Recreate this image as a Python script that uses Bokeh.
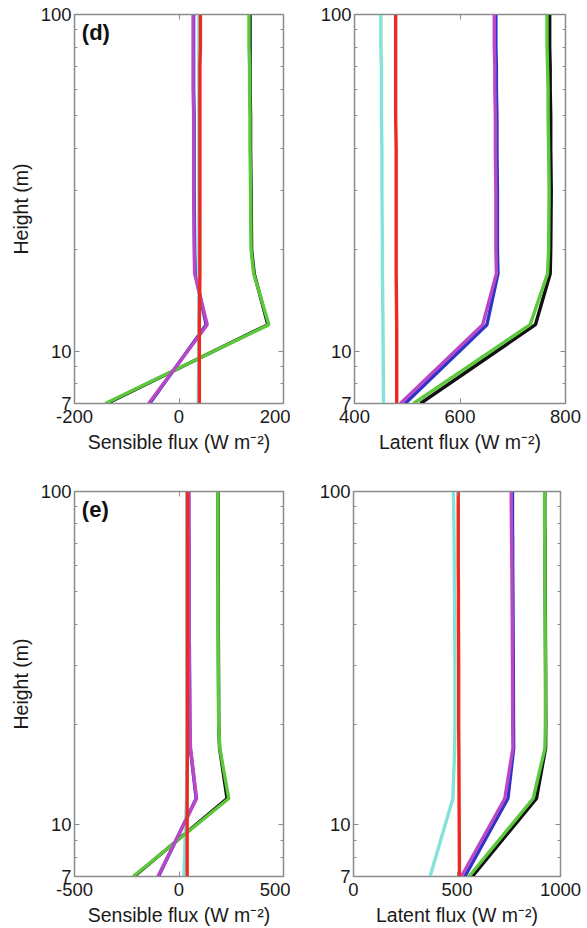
from bokeh.plotting import figure
from bokeh.layouts import column, row
from bokeh.models import (FixedTicker, LogAxis, LinearAxis,
                          Label, CustomJSTickFormatter)
from bokeh.embed import file_html
from bokeh.resources import INLINE

# ---------------- data ----------------
heights = [7, 12, 17, 20, 30, 40, 50, 60, 70, 80, 90, 100]

# panel (d) sensible flux
d_sens = {
    "black":   [-138, 170, 144, 139, 138, 137, 137, 136, 136, 136, 136, 136],
    "blue":    [-56, 52, 31, 30, 29, 29, 29, 28, 28, 28, 28, 28],
    "cyan":    [37, 38, 38, 38, 38, 38, 38, 38, 38, 38, 38, 38],
    "green":   [-141, 172, 143, 138, 137, 136, 136, 135, 135, 134, 134, 134],
    "magenta": [-58, 54, 30, 29, 28, 28, 28, 27, 27, 27, 27, 27],
    "red":     [39, 39, 40, 40, 40, 40, 40, 40, 40, 41, 41, 41],
}
# panel (d) latent flux
d_lat = {
    "black":   [525, 743, 771, 772, 773, 772, 772, 771, 771, 770, 770, 770],
    "blue":    [496, 651, 672, 671, 671, 670, 670, 669, 669, 668, 668, 668],
    "cyan":    [455, 454, 453, 453, 452, 452, 451, 451, 451, 450, 450, 450],
    "green":   [512, 733, 766, 768, 769, 768, 767, 767, 766, 765, 765, 765],
    "magenta": [487, 643, 669, 668, 668, 667, 667, 666, 666, 665, 665, 665],
    "red":     [480, 480, 479, 479, 479, 479, 478, 478, 478, 478, 478, 478],
}
# panel (e) sensible flux
e_sens = {
    "black":   [-215, 230, 194, 190, 189, 188, 188, 187, 187, 187, 187, 187],
    "blue":    [-98, 82, 54, 52, 50, 49, 48, 48, 48, 47, 47, 47],
    "cyan":    [23, 36, 38, 38, 38, 38, 38, 38, 38, 38, 38, 38],
    "green":   [-219, 238, 195, 190, 188, 187, 187, 186, 186, 186, 186, 186],
    "magenta": [-101, 84, 55, 52, 50, 49, 48, 48, 47, 47, 47, 47],
    "red":     [39, 39, 40, 40, 40, 40, 40, 40, 40, 40, 40, 40],
}
# panel (e) latent flux
e_lat = {
    "black":   [574, 884, 928, 929, 928, 927, 926, 925, 925, 924, 924, 924],
    "blue":    [538, 746, 774, 773, 772, 771, 770, 769, 769, 768, 768, 768],
    "cyan":    [370, 480, 489, 490, 490, 489, 488, 487, 486, 485, 484, 482],
    "green":   [558, 868, 925, 927, 927, 926, 925, 924, 924, 923, 923, 923],
    "magenta": [521, 731, 770, 769, 768, 767, 766, 765, 764, 763, 762, 762],
    "red":     [512, 510, 509, 508, 508, 507, 507, 506, 506, 506, 506, 506],
}

y_ticks = [7, 10, 100]
y_minor = [8, 9, 20, 30, 40, 50, 60, 70, 80, 90]
d_sens_ticks = [-200, 0, 200]
d_lat_ticks = [400, 600, 800]
e_sens_ticks = [-500, 0, 500]
e_lat_ticks = [0, 500, 1000]

sens_label = "Sensible flux (W m\u207b\u00b2)"
lat_label = "Latent flux (W m\u207b\u00b2)"
height_label = "Height (m)"

colors = {
    "black": "#111111",
    "blue": "#2f34c8",
    "cyan": "#84e2da",
    "green": "#5cc83c",
    "magenta": "#b848c6",
    "red": "#ec2a22",
}
draw_order = ["black", "blue", "cyan", "green", "magenta", "red"]

FONT = "Liberation Sans"
GREY = "#8c8c8c"
TXT = "#1a1a1a"


def make_panel(series, xticks, xlabel, ylabel, tag, width, height,
               bl, br, bt, bb):
    p = figure(width=width, height=height, y_axis_type="log",
               x_range=(xticks[0], xticks[-1]), y_range=(7, 100),
               output_backend="svg", toolbar_location=None,
               min_border_left=bl, min_border_right=br,
               min_border_top=bt, min_border_bottom=bb)
    p.grid.visible = False
    p.outline_line_color = GREY
    p.outline_line_width = 1.5
    p.background_fill_color = "white"
    p.border_fill_color = "white"

    for name in draw_order:
        p.line(series[name], heights, line_color=colors[name], line_width=3.4)

    plain = CustomJSTickFormatter(code="return String(tick)")
    xa = p.xaxis[0]
    xa.ticker = FixedTicker(ticks=xticks, minor_ticks=[])
    xa.formatter = plain
    xa.axis_label = xlabel
    ya = p.yaxis[0]
    ya.ticker = FixedTicker(ticks=y_ticks, minor_ticks=y_minor)
    ya.formatter = plain
    ya.axis_label = ylabel

    for ax in (xa, ya):
        ax.axis_line_color = GREY
        ax.major_tick_line_color = GREY
        ax.minor_tick_line_color = GREY
        ax.major_tick_in = 5
        ax.major_tick_out = 0
        ax.minor_tick_in = 3
        ax.minor_tick_out = 0
        ax.major_label_text_font = FONT
        ax.major_label_text_font_size = "18.5px"
        ax.major_label_text_color = TXT
        ax.axis_label_text_font = FONT
        ax.axis_label_text_font_size = "19.5px"
        ax.axis_label_text_font_style = "normal"
        ax.axis_label_text_color = TXT
    xa.major_label_standoff = 6
    xa.axis_label_standoff = 5
    ya.major_label_standoff = 3
    ya.axis_label_standoff = 6

    blank = CustomJSTickFormatter(code="return ''")
    ra = LogAxis(ticker=FixedTicker(ticks=y_ticks, minor_ticks=y_minor),
                 formatter=blank)
    ta = LinearAxis(ticker=FixedTicker(ticks=xticks, minor_ticks=[]),
                    formatter=blank)
    for ax in (ra, ta):
        ax.axis_line_color = GREY
        ax.major_tick_line_color = GREY
        ax.minor_tick_line_color = GREY
        ax.major_tick_in = 5
        ax.major_tick_out = 0
        ax.minor_tick_in = 3
        ax.minor_tick_out = 0
        ax.major_label_standoff = 0
        ax.major_label_text_font_size = "0px"
    p.add_layout(ra, "right")
    p.add_layout(ta, "above")

    if tag:
        span = xticks[-1] - xticks[0]
        p.add_layout(Label(x=xticks[0] + 0.035 * span, y=96, text=tag,
                           text_font=FONT, text_font_size="22px",
                           text_font_style="bold", text_color="#111111",
                           text_baseline="top"))
    return p


p1 = make_panel(d_sens, d_sens_ticks, sens_label, height_label, "(d)",
                290, 460, 74, 7, 14, 57)
p2 = make_panel(d_lat, d_lat_ticks, lat_label, None, None,
                297, 460, 64, 22, 14, 57)
p3 = make_panel(e_sens, e_sens_ticks, sens_label, height_label, "(e)",
                290, 468, 74, 7, 31, 52)
p4 = make_panel(e_lat, e_lat_ticks, lat_label, None, None,
                297, 468, 63, 27, 31, 52)

layout = column(row(p1, p2), row(p3, p4))
open("out.html", "w").write(file_html(layout, INLINE))
